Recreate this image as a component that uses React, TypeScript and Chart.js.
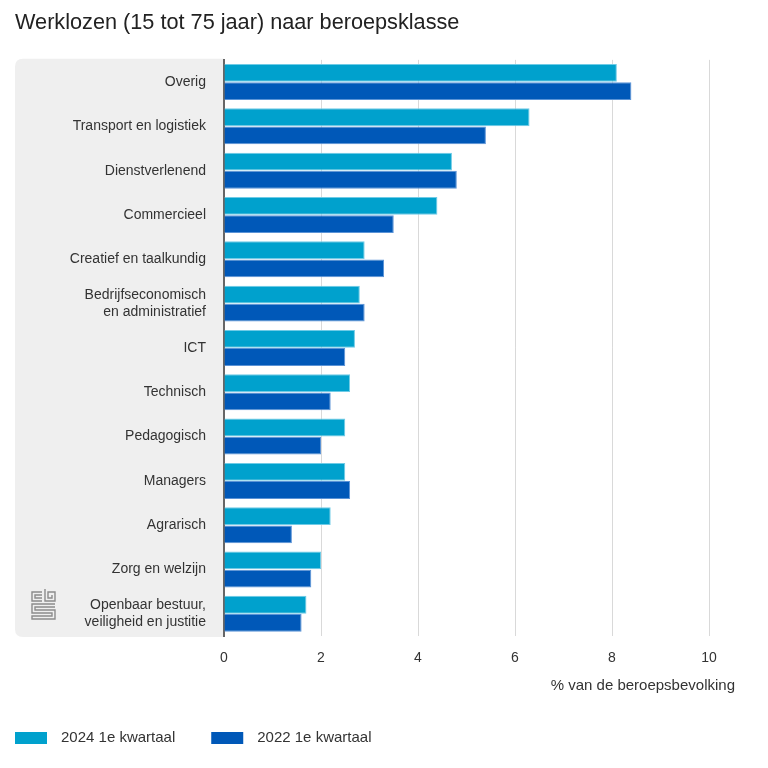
import React, { useEffect, useRef } from "react";
import { Chart, registerables } from "chart.js";

Chart.register(...registerables);

const titleText = "Werklozen (15 tot 75 jaar) naar beroepsklasse";
const axisTitle = "% van de beroepsbevolking";

const categories: (string | string[])[] = [
  "Overig",
  "Transport en logistiek",
  "Dienstverlenend",
  "Commercieel",
  "Creatief en taalkundig",
  ["Bedrijfseconomisch", "en administratief"],
  "ICT",
  "Technisch",
  "Pedagogisch",
  "Managers",
  "Agrarisch",
  "Zorg en welzijn",
  ["Openbaar bestuur,", "veiligheid en justitie"],
];

const seriesLabels = ["2024 1e kwartaal", "2022 1e kwartaal"];
const values2024 = [8.1, 6.3, 4.7, 4.4, 2.9, 2.8, 2.7, 2.6, 2.5, 2.5, 2.2, 2.0, 1.7];
const values2022 = [8.4, 5.4, 4.8, 3.5, 3.3, 2.9, 2.5, 2.2, 2.0, 2.6, 1.4, 1.8, 1.6];
const xTicks = [0, 2, 4, 6, 8, 10];

const FONT = '"Liberation Sans", Arial, sans-serif';
const COLOR_2024 = "#00a1cd";
const COLOR_2022 = "#0058b8";

const panelPlugin = {
  id: "panelPlugin",
  beforeDraw(chart: any) {
    const { ctx, chartArea } = chart;
    const left = chartArea.left - 209;
    const right = chartArea.left;
    const top = chartArea.top - 1;
    const bottom = chartArea.bottom + 1;
    const r = 8;
    ctx.save();
    ctx.fillStyle = "#efefef";
    ctx.beginPath();
    ctx.moveTo(right, top);
    ctx.lineTo(left + r, top);
    ctx.quadraticCurveTo(left, top, left, top + r);
    ctx.lineTo(left, bottom - r);
    ctx.quadraticCurveTo(left, bottom, left + r, bottom);
    ctx.lineTo(right, bottom);
    ctx.closePath();
    ctx.fill();

    // cbs logo
    const lx = left + 17;
    const ly = bottom - 48;
    ctx.strokeStyle = "#8c8c8c";
    ctx.lineWidth = 1.4;
    ctx.beginPath();
    // "c"
    ctx.moveTo(lx + 10, ly + 3);
    ctx.lineTo(lx, ly + 3);
    ctx.lineTo(lx, ly + 12);
    ctx.lineTo(lx + 10, ly + 12);
    ctx.moveTo(lx + 10, ly + 6);
    ctx.lineTo(lx + 3, ly + 6);
    ctx.lineTo(lx + 3, ly + 9);
    ctx.lineTo(lx + 10, ly + 9);
    // "b"
    ctx.moveTo(lx + 13, ly);
    ctx.lineTo(lx + 13, ly + 12);
    ctx.lineTo(lx + 23, ly + 12);
    ctx.lineTo(lx + 23, ly + 3);
    ctx.lineTo(lx + 16, ly + 3);
    ctx.lineTo(lx + 16, ly + 9);
    ctx.lineTo(lx + 20, ly + 9);
    ctx.lineTo(lx + 20, ly + 6);
    // "S" meander
    ctx.moveTo(lx + 23, ly + 15);
    ctx.lineTo(lx, ly + 15);
    ctx.lineTo(lx, ly + 24);
    ctx.lineTo(lx + 20, ly + 24);
    ctx.lineTo(lx + 20, ly + 27);
    ctx.lineTo(lx, ly + 27);
    ctx.lineTo(lx, ly + 30);
    ctx.lineTo(lx + 23, ly + 30);
    ctx.lineTo(lx + 23, ly + 21);
    ctx.lineTo(lx + 3, ly + 21);
    ctx.lineTo(lx + 3, ly + 18);
    ctx.lineTo(lx + 23, ly + 18);
    ctx.stroke();
    ctx.restore();
  },
};

const axisTitlePlugin = {
  id: "axisTitlePlugin",
  afterDraw(chart: any) {
    const { ctx, chartArea } = chart;
    ctx.save();
    ctx.font = `15px ${FONT}`;
    ctx.fillStyle = "#333333";
    ctx.textAlign = "right";
    ctx.textBaseline = "middle";
    ctx.fillText(axisTitle, chartArea.right + 26, chartArea.bottom + 50);
    ctx.restore();
  },
};

const legendPlugin = {
  id: "customLegend",
  afterDraw(chart: any) {
    const { ctx } = chart;
    const y = chart.height - 30;
    let x = 15;
    ctx.save();
    ctx.font = `15px ${FONT}`;
    ctx.textBaseline = "middle";
    ctx.textAlign = "left";
    chart.data.datasets.forEach((ds: any) => {
      ctx.fillStyle = ds.backgroundColor;
      ctx.fillRect(x, y - 6, 32, 12);
      x += 32 + 14;
      ctx.fillStyle = "#333333";
      ctx.fillText(ds.label, x, y);
      x += ctx.measureText(ds.label).width + 36;
    });
    ctx.restore();
  },
};

export default function App() {
  const canvasRef = useRef<HTMLCanvasElement | null>(null);

  useEffect(() => {
    if (!canvasRef.current) return;
    const chart = new Chart(canvasRef.current, {
      type: "bar",
      data: {
        labels: categories,
        datasets: [
          {
            label: seriesLabels[0],
            data: values2024,
            backgroundColor: COLOR_2024,
            borderColor: "#6fcbe6",
            borderWidth: 1,
            categoryPercentage: 0.82,
            barPercentage: 0.98,
          },
          {
            label: seriesLabels[1],
            data: values2022,
            backgroundColor: COLOR_2022,
            borderColor: "#5b93d6",
            borderWidth: 1,
            categoryPercentage: 0.82,
            barPercentage: 0.98,
          },
        ],
      },
      options: {
        indexAxis: "y",
        responsive: false,
        animation: false,
        layout: { padding: { left: 15, right: 59, top: 0, bottom: 48 } },
        plugins: {
          legend: { display: false },
          tooltip: { enabled: false },
          title: {
            display: true,
            text: titleText,
            align: "start",
            color: "#222222",
            font: { family: FONT, size: 21.7, weight: "normal", lineHeight: 1.1 },
            padding: { top: 11, bottom: 25 },
          },
        },
        scales: {
          x: {
            type: "linear",
            min: 0,
            max: 10,
            afterBuildTicks: (scale: any) => {
              scale.ticks = xTicks.map((v) => ({ value: v }));
            },
            afterFit: (scale: any) => {
              scale.height = 84;
            },
            grid: {
              color: (c: any) => (c.tick && c.tick.value === 0 ? "rgba(0,0,0,0)" : "#d9d9d9"),
              drawTicks: false,
            },
            border: { display: false },
            ticks: {
              padding: 14,
              color: "#333333",
              font: { family: FONT, size: 14 },
            },
          },
          y: {
            afterFit: (scale: any) => {
              scale.width = 209;
            },
            grid: { display: false, drawTicks: false },
            border: { display: true, color: "#666666", width: 2 },
            ticks: {
              padding: 18,
              color: "#333333",
              font: { family: FONT, size: 14, lineHeight: 1.2 },
            },
          },
        },
      },
      plugins: [panelPlugin, axisTitlePlugin, legendPlugin],
    } as any);
    return () => chart.destroy();
  }, []);

  return (
    <div style={{ position: "absolute", left: 0, top: 0, width: 768, height: 768, background: "#ffffff" }}>
      <canvas ref={canvasRef} width={768} height={768} />
    </div>
  );
}
